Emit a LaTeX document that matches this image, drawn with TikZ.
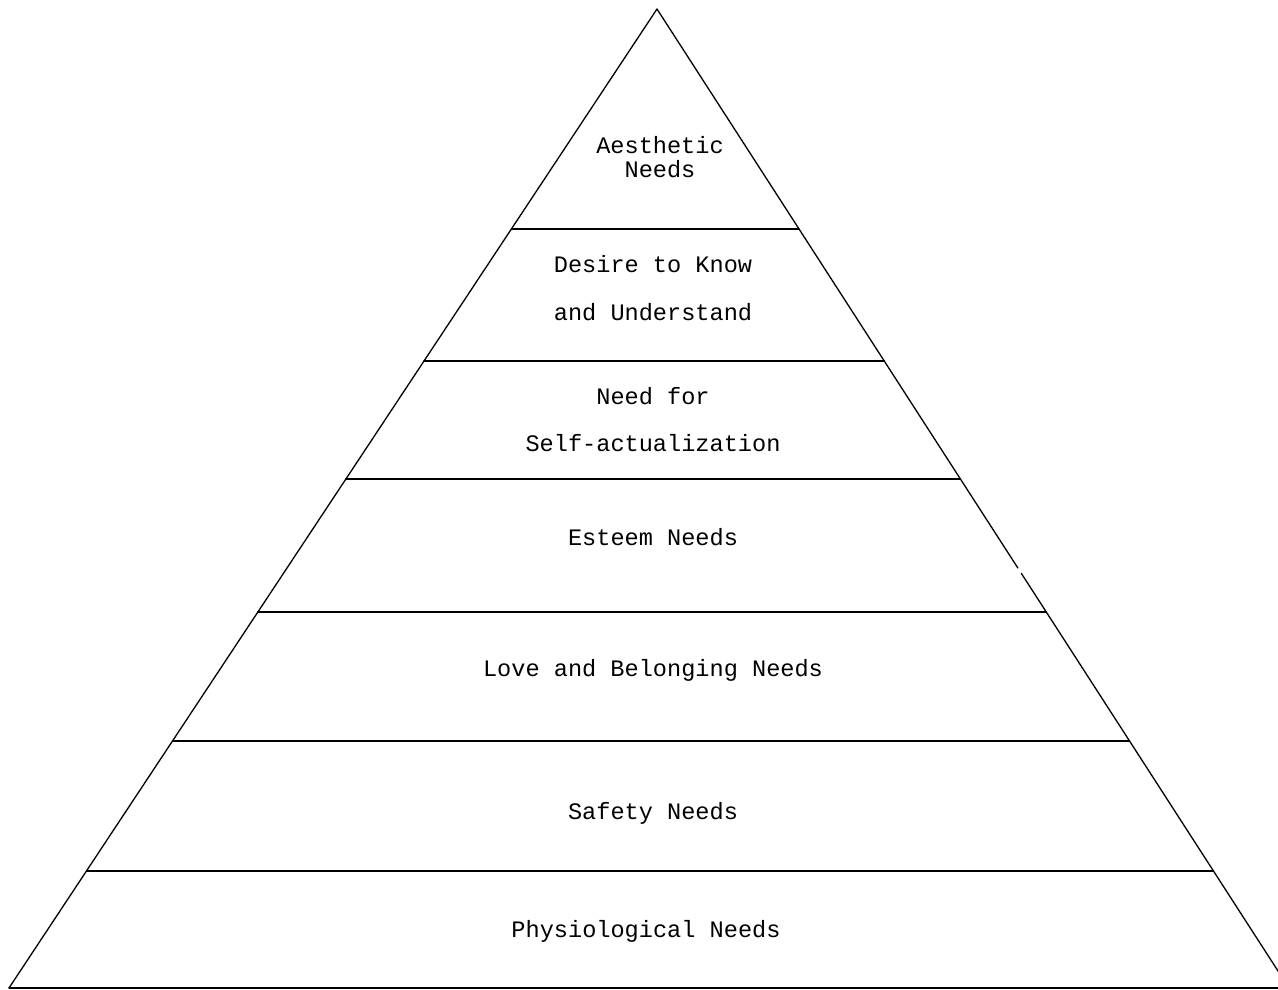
\documentclass[tikz,border=0pt]{standalone}
\usepackage{fontspec}
\setmonofont{Liberation Mono}
\usetikzlibrary{calc}
\begin{document}
\begin{tikzpicture}[x=1pt,y=-1pt,
  edge/.style={line width=1.3pt,line cap=round,line join=round},
  label/.style={font=\ttfamily\fontsize{23.6}{24}\selectfont,anchor=base,inner sep=0pt}]
\useasboundingbox (0,0) rectangle (1278,990);
\clip (0,0) rectangle (1278,990);
% corners of the pyramid
\coordinate (apex) at (657,9);
\coordinate (lb) at (9,988);
\coordinate (rb) at (1289,988);
% the right flank has a small break in it
\coordinate (gapA) at ($(apex)!0.5710!(rb)$);
\coordinate (gapB) at ($(apex)!0.5765!(rb)$);
\draw[edge] (lb) -- (apex) -- (gapA);
\draw[edge] (gapB) -- (rb);
\draw[edge] (lb) -- (rb);
% horizontal tiers (fraction of the height from the apex)
\foreach \n/\t in {1/0.2247,2/0.3596,3/0.4801,4/0.6160,5/0.7477,6/0.8805}{
  \coordinate (L\n) at ($(apex)!\t!(lb)$);
  \coordinate (R\n) at ($(apex)!\t!(rb)$);
  \draw[edge] (L\n) -- (R\n);
}
% tier labels
\node[label] (aes1) at (660,153) {Aesthetic};
\node[label] (aes2) at (660,177) {Needs};
\node[label] (know1) at (653,272) {Desire to Know};
\node[label] (know2) at (653,320) {and Understand};
\node[label] (self1) at (653,404) {Need for};
\node[label] (self2) at (653,451) {Self-actualization};
\node[label] (est) at (653,545) {Esteem Needs};
\node[label] (love) at (653,676) {Love and Belonging Needs};
\node[label] (safe) at (653,819) {Safety Needs};
\node[label] (phys) at (646,937) {Physiological Needs};
\end{tikzpicture}
\end{document}
